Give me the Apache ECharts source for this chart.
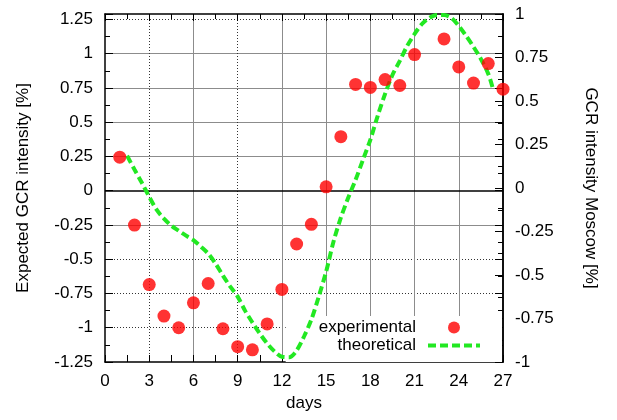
<!DOCTYPE html>
<html>
<head>
<meta charset="utf-8">
<script src="https://cdn.jsdelivr.net/npm/echarts@6/dist/echarts.min.js"></script>
<style>
html,body{margin:0;padding:0;background:#fff;}
#chart{width:617px;height:420px;}
</style>
</head>
<body>
<div id="chart"></div>
<script>
// ---- data ----
const expDays = [1,2,3,4,5,6,7,8,9,10,11,12,13,14,15,16,17,18,19,20,21,23,24,25,26,27];
const experimental = [0.177,-0.213,-0.555,-0.736,-0.803,-0.660,-0.549,-0.809,-0.912,-0.930,-0.781,-0.583,-0.322,-0.209,0.007,0.295,0.595,0.578,0.623,0.589,0.767,0.857,0.696,0.603,0.715,0.568];
const theoDays = [1.5,2,2.5,3,3.5,4,4.5,5,5.5,6,6.5,7,7.5,8,8.5,9,9.5,10,10.5,11,11.5,12,12.5,13,13.5,14,14.5,15,15.5,16,16.5,17,17.5,18,18.5,19,19.5,20,20.5,21,21.5,22,22.5,23,23.5,24,24.5,25,25.5,26,26.3];
const theoretical = [0.255,0.155,0.058,-0.044,-0.138,-0.204,-0.255,-0.292,-0.328,-0.361,-0.408,-0.459,-0.532,-0.620,-0.700,-0.773,-0.875,-0.962,-1.042,-1.115,-1.173,-1.212,-1.215,-1.166,-1.064,-0.940,-0.773,-0.591,-0.372,-0.197,-0.051,0.080,0.226,0.372,0.547,0.707,0.845,0.948,1.057,1.144,1.217,1.261,1.283,1.283,1.261,1.203,1.130,1.050,0.962,0.853,0.751];
const xTicks = [0,3,6,9,12,15,18,21,24,27];
const yLeftTicks = [-1.25,-1,-0.75,-0.5,-0.25,0,0.25,0.5,0.75,1,1.25];
const yRightTicks = [-1,-0.75,-0.5,-0.25,0,0.25,0.5,0.75,1];
const xSolidGrid = [6,12,15,18,21,24];
const xDottedGrid = [3,9];
const ySolidGrid = [-0.25,0.25,0.5,0.75,1];
const yDottedGrid = [-1,-0.75,-0.5,1.25];

const FONT = "'Liberation Sans', Arial, Helvetica, sans-serif";
const T = 'rgba(0,0,0,0)';
const GRAY = '#8c8c8c';
const DOT = '#333';
const GREEN = '#22e822';
const LEFT_MAX = 1.29;

function colorsFor(ticks, set, col, extra) {
  const arr = ticks.map(t => set.indexOf(t) >= 0 ? col : T);
  for (let i = 0; i < (extra || 0); i++) arr.push(T);
  return arr;
}
const isQuarter = v => Math.abs(v * 4 - Math.round(v * 4)) < 1e-6;

const chart = echarts.init(document.getElementById('chart'), null, {renderer: 'canvas'});
const axisLine = {show: true, onZero: false, lineStyle: {color: '#000', width: 1.5}};
const labelStyle = {color: '#000', fontFamily: FONT, fontSize: 17};

chart.setOption({
  backgroundColor: '#fff',
  animation: false,
  textStyle: {fontFamily: FONT},
  grid: {left: 105, right: 114, top: 14, bottom: 58, containLabel: false},
  legend: {
    orient: 'vertical',
    right: 115,
    top: 316,
    align: 'right',
    itemWidth: 52,
    itemHeight: 12,
    itemGap: 1,
    padding: [3, 20, 8, 33],
    backgroundColor: '#fff',
    textStyle: {color: '#000', fontFamily: FONT, fontSize: 17, padding: [0, 7, 0, 0]},
    data: [
      {name: 'experimental'},
      {name: 'theoretical', itemStyle: {opacity: 0}, lineStyle: {width: 4, color: GREEN, type: [8, 4]}}
    ]
  },
  xAxis: [
    {
      type: 'value', position: 'bottom', min: 0, max: 27, interval: 3,
      name: 'days', nameLocation: 'middle', nameGap: 31,
      nameTextStyle: labelStyle,
      axisLine: axisLine,
      axisTick: {inside: true, length: 7, lineStyle: {color: '#000'}},
      minorTick: {show: true, splitNumber: 2, length: 7, lineStyle: {color: '#000'}},
      axisLabel: Object.assign({margin: 11}, labelStyle),
      splitLine: {show: true, lineStyle: {color: colorsFor(xTicks, xSolidGrid, GRAY), width: 1}}
    },
    {
      type: 'value', position: 'top', min: 0, max: 27, interval: 3,
      axisLine: axisLine,
      axisTick: {inside: true, length: 7, lineStyle: {color: '#000'}},
      minorTick: {show: true, splitNumber: 2, length: 5, lineStyle: {color: '#000'}},
      axisLabel: {show: false},
      splitLine: {show: true, lineStyle: {color: colorsFor(xTicks, xDottedGrid, DOT), width: 1, type: [1, 2]}}
    }
  ],
  yAxis: [
    {
      type: 'value', position: 'left', min: -1.25, max: LEFT_MAX, interval: 0.25,
      name: 'Expected GCR intensity [%]', nameLocation: 'middle', nameGap: 73,
      nameTextStyle: labelStyle,
      axisLine: axisLine,
      axisTick: {inside: true, length: 8, lineStyle: {color: '#000'}},
      minorTick: {show: true, splitNumber: 2, length: 5, lineStyle: {color: '#000'}},
      axisLabel: Object.assign({margin: 12, formatter: v => isQuarter(v) ? String(+(+v).toFixed(2)) : ''}, labelStyle),
      splitLine: {show: true, lineStyle: {color: colorsFor(yLeftTicks, ySolidGrid, GRAY, 1), width: 1}}
    },
    {
      type: 'value', position: 'right', min: -1, max: 1, interval: 0.25,
      name: 'GCR intensity Moscow [%]', nameLocation: 'middle', nameGap: 79, nameRotate: -90,
      nameTextStyle: Object.assign({padding: [20, 0, 0, 0]}, labelStyle),
      axisLine: axisLine,
      axisTick: {inside: true, length: 8, lineStyle: {color: '#000'}},
      minorTick: {show: true, splitNumber: 2, length: 5, lineStyle: {color: '#000'}},
      axisLabel: Object.assign({margin: 12}, labelStyle),
      splitLine: {show: false}
    },
    {
      type: 'value', position: 'right', min: -1.25, max: LEFT_MAX, interval: 0.25,
      axisLine: axisLine,
      axisTick: {inside: true, length: 8, lineStyle: {color: '#000'}},
      minorTick: {show: true, splitNumber: 2, length: 5, lineStyle: {color: '#000'}},
      axisLabel: {show: false},
      splitLine: {show: true, lineStyle: {color: colorsFor(yLeftTicks, yDottedGrid, DOT, 1), width: 1, type: [1, 2]}}
    }
  ],
  series: [
    {
      name: 'experimental',
      type: 'scatter',
      xAxisIndex: 0, yAxisIndex: 1,
      symbol: 'circle', symbolSize: 13,
      itemStyle: {color: '#ff0000'},
      clip: false,
      z: 10,
      data: expDays.map((d, i) => [d, experimental[i]])
    },
    {
      name: 'theoretical',
      type: 'line',
      xAxisIndex: 0, yAxisIndex: 0,
      showSymbol: false, symbol: 'none',
      smooth: 0.3,
      lineStyle: {color: GREEN, width: 4, type: [8, 4]},
      itemStyle: {color: GREEN},
      z: 9,
      markLine: {
        silent: true, symbol: 'none', label: {show: false},
        lineStyle: {color: '#000', width: 1.5, type: 'solid'},
        data: [{yAxis: 0}]
      },
      data: theoDays.map((d, i) => [d, theoretical[i]])
    }
  ]
});
</script>
</body>
</html>
